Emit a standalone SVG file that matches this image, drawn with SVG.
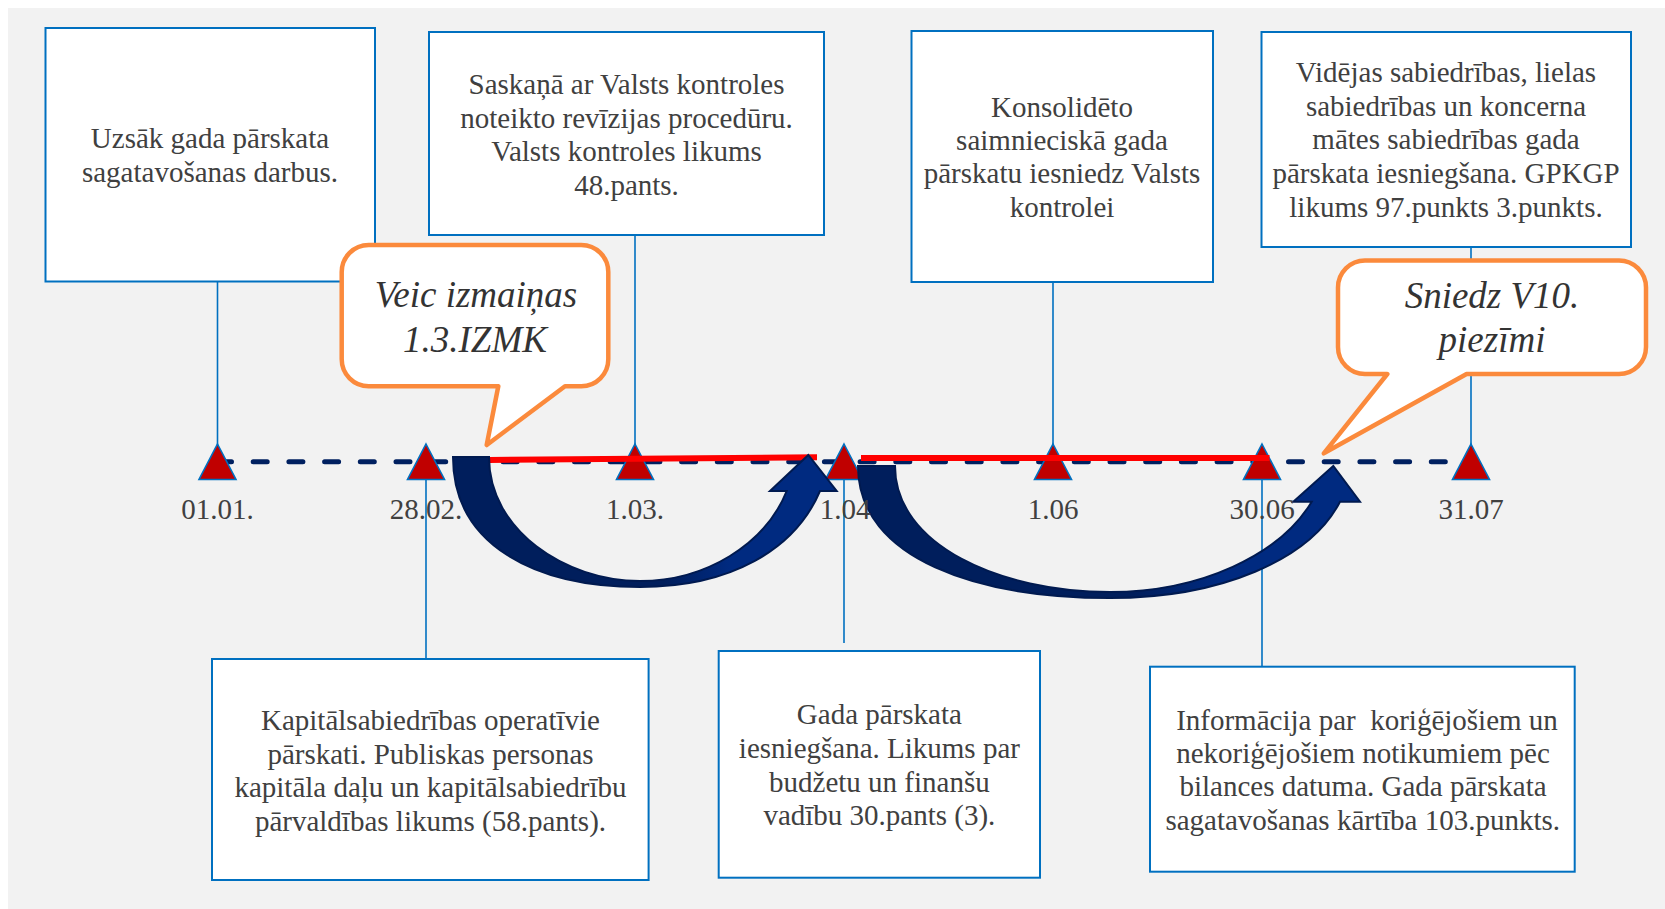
<svg xmlns="http://www.w3.org/2000/svg" width="1665" height="909" viewBox="0 0 1665 909">
<defs>
<style>
.box{fill:#ffffff;stroke:#0070c0;stroke-width:2}
.conn{stroke:#0070c0;stroke-width:1.6;fill:none}
.t{font-family:"Liberation Serif","Times New Roman",serif;font-size:29px;fill:#404040;text-anchor:middle}
.ct{font-family:"Liberation Serif","Times New Roman",serif;font-size:37px;font-style:italic;fill:#333333;text-anchor:middle}
.tri{fill:#c00000;stroke:#0070c0;stroke-width:1.6;stroke-linejoin:miter}
.call{fill:#ffffff;stroke:#fb8a3c;stroke-width:4.5;stroke-linejoin:round}
.red{stroke:#ff0000;stroke-width:6;fill:none}
.arrow{fill:url(#arrowFill);stroke:#001a50;stroke-width:2;stroke-linejoin:miter}
</style>
<linearGradient id="arrowFill" x1="0" y1="0" x2="1" y2="0">
<stop offset="0" stop-color="#001e5c"/>
<stop offset="0.55" stop-color="#001e5c"/>
<stop offset="0.72" stop-color="#002a80"/>
<stop offset="1" stop-color="#002a80"/>
</linearGradient>
</defs>
<rect x="0" y="0" width="1665" height="909" fill="#ffffff"/>
<rect x="8" y="8" width="1657" height="901" fill="#f2f2f2"/>

<g id="connectors">
<line class="conn" x1="217.5" y1="282" x2="217.5" y2="445"/>
<line class="conn" x1="426" y1="478" x2="426" y2="659"/>
<line class="conn" x1="635" y1="235" x2="635" y2="445"/>
<line class="conn" x1="844" y1="478" x2="844" y2="643"/>
<line class="conn" x1="1053" y1="282" x2="1053" y2="445"/>
<line class="conn" x1="1262" y1="478" x2="1262" y2="667"/>
<line class="conn" x1="1471" y1="247" x2="1471" y2="445"/>
</g>

<g id="box-uzsak">
<rect class="box" x="45.5" y="28" width="329.5" height="253.5"/>
<text class="t" x="210" y="148">Uzsāk gada pārskata</text>
<text class="t" x="210" y="182">sagatavošanas darbus.</text>
</g>

<g id="box-saskana">
<rect class="box" x="429" y="32" width="395" height="203"/>
<text class="t" x="626.5" y="94">Saskaņā ar Valsts kontroles</text>
<text class="t" x="626.5" y="127.5">noteikto revīzijas procedūru.</text>
<text class="t" x="626.5" y="161">Valsts kontroles likums</text>
<text class="t" x="626.5" y="194.5">48.pants.</text>
</g>

<g id="box-konsolideto">
<rect class="box" x="911.5" y="31" width="301.5" height="251"/>
<text class="t" x="1062" y="116.7">Konsolidēto</text>
<text class="t" x="1062" y="150">saimnieciskā gada</text>
<text class="t" x="1062" y="183.3">pārskatu iesniedz Valsts</text>
<text class="t" x="1062" y="217">kontrolei</text>
</g>

<g id="box-videjas">
<rect class="box" x="1261.5" y="32" width="369.5" height="215"/>
<text class="t" x="1446" y="81.7">Vidējas sabiedrības, lielas</text>
<text class="t" x="1446" y="115.7">sabiedrības un koncerna</text>
<text class="t" x="1446" y="149">mātes sabiedrības gada</text>
<text class="t" x="1446" y="183.3">pārskata iesniegšana. GPKGP</text>
<text class="t" x="1446" y="217.3">likums 97.punkts 3.punkts.</text>
</g>

<g id="box-kapital">
<rect class="box" x="212" y="659" width="436.6" height="221"/>
<text class="t" x="430.5" y="730">Kapitālsabiedrības operatīvie</text>
<text class="t" x="430.5" y="763.5">pārskati. Publiskas personas</text>
<text class="t" x="430.5" y="797">kapitāla daļu un kapitālsabiedrību</text>
<text class="t" x="430.5" y="831">pārvaldības likums (58.pants).</text>
</g>

<g id="box-gada">
<rect class="box" x="718.7" y="651" width="321.3" height="226.7"/>
<text class="t" x="879.4" y="724">Gada pārskata</text>
<text class="t" x="879.4" y="758">iesniegšana. Likums par</text>
<text class="t" x="879.4" y="791.7">budžetu un finanšu</text>
<text class="t" x="879.4" y="825">vadību 30.pants (3).</text>
</g>

<g id="box-informacija">
<rect class="box" x="1150" y="666.7" width="424.7" height="205"/>
<text class="t" x="1367" y="730" xml:space="preserve">Informācija par  koriģējošiem un</text>
<text class="t" x="1363" y="763">nekoriģējošiem notikumiem pēc</text>
<text class="t" x="1363" y="796">bilances datuma. Gada pārskata</text>
<text class="t" x="1362.7" y="830">sagatavošanas kārtība 103.punkts.</text>
</g>

<g id="timeline">
<line x1="217.5" y1="461.7" x2="1471" y2="461.7" stroke="#002060" stroke-width="5" stroke-linecap="round" stroke-dasharray="14 21.7"/>
<polygon class="tri" points="217.5,444 236,479.5 199,479.5"/>
<polygon class="tri" points="426,444 444.5,479.5 407.5,479.5"/>
<polygon class="tri" points="635,444 653.5,479.5 616.5,479.5"/>
<polygon class="tri" points="844,444 862.5,479.5 825.5,479.5"/>
<polygon class="tri" points="1053,444 1071.5,479.5 1034.5,479.5"/>
<polygon class="tri" points="1262,444 1280.5,479.5 1243.5,479.5"/>
<polygon class="tri" points="1471,444 1489.5,479.5 1452.5,479.5"/>
<line class="red" x1="489" y1="460" x2="817" y2="457.3"/>
<line class="red" x1="861" y1="458" x2="1269.5" y2="458"/>
</g>

<g id="arrow-1">
<path class="arrow" d="M453,457 C453,545 535,587 640,587 C730,587 795,550 820,491 L836.7,491 L808.3,455 L770,491 L786.7,491 C765,545 705,581 640,581 C565,581 489,530 489,457 Z"/>
</g>
<g id="arrow-2">
<path class="arrow" d="M858,466 C858,560 980,598 1110,598 C1220,598 1310,560 1340,501.7 L1360,501.7 L1333.3,466 L1293.3,501.7 L1311.7,501.7 C1280,555 1200,592 1110,592 C1000,592 895,545 895,466 Z"/>
</g>

<g id="labels">
<text class="t" x="217.5" y="519">01.01.</text>
<text class="t" x="426" y="519">28.02.</text>
<text class="t" x="635" y="519">1.03.</text>
<text class="t" x="845" y="519">1.04</text>
<text class="t" x="1053" y="519">1.06</text>
<text class="t" x="1262" y="519">30.06</text>
<text class="t" x="1471" y="519">31.07</text>
</g>

<g id="callout-1">
<path class="call" d="M368.7,245 H581.3 A27,27 0 0 1 608.3,272 V359.3 A27,27 0 0 1 581.3,386.3 H565 L486.7,445 L498.3,386.3 H368.7 A27,27 0 0 1 341.7,359.3 V272 A27,27 0 0 1 368.7,245 Z"/>
<text class="ct" x="476" y="307.3">Veic izmaiņas</text>
<text class="ct" x="475" y="351.7">1.3.IZMK</text>
</g>

<g id="callout-2">
<path class="call" d="M1365,260.5 H1619 A27,27 0 0 1 1646,287.5 V347 A27,27 0 0 1 1619,374 H1466.6 L1323.8,453.3 L1387.3,374 H1365 A27,27 0 0 1 1338,347 V287.5 A27,27 0 0 1 1365,260.5 Z"/>
<text class="ct" x="1492" y="308">Sniedz V10.</text>
<text class="ct" x="1492" y="351.7">piezīmi</text>
</g>
</svg>
